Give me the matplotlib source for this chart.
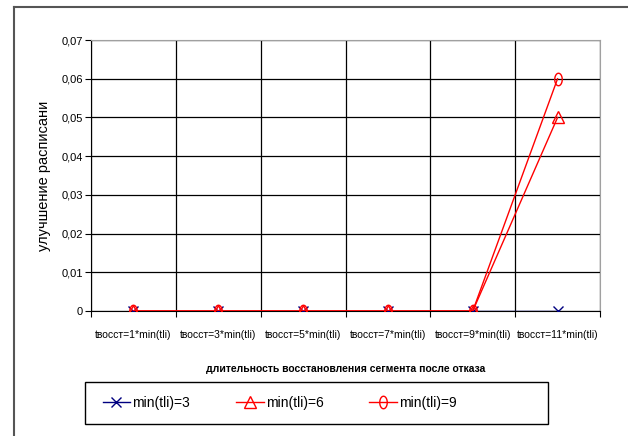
import numpy as np
import matplotlib.pyplot as plt
from matplotlib.path import Path
from matplotlib.lines import Line2D
from matplotlib.patches import Rectangle
from matplotlib.ticker import FuncFormatter, FixedLocator

plt.rcParams['font.family'] = ['Liberation Sans', 'DejaVu Sans']

categories = ['tвосст=1*min(tli)', 'tвосст=3*min(tli)', 'tвосст=5*min(tli)',
              'tвосст=7*min(tli)', 'tвосст=9*min(tli)', 'tвосст=11*min(tli)']
min3 = [0, 0, 0, 0, 0, 0]
min6 = [0, 0, 0, 0, 0, 0.05]
min9 = [0, 0, 0, 0, 0, 0.06]
labels = ['min(tli)=3', 'min(tli)=6', 'min(tli)=9']

# narrow ellipse marker
t = np.linspace(0, 2 * np.pi, 40)
ellipse = Path(np.column_stack([0.6 * np.cos(t), np.sin(t)]))

fig = plt.figure(figsize=(6.28, 4.36), dpi=100)
ax = fig.add_axes([91 / 628, 1 - 311 / 436, (600 - 91) / 628, (311 - 40) / 436])

x = np.arange(len(categories))
ax.plot(x, min3, color='#000080', lw=1, marker='x', ms=7, mew=1, label=labels[0], zorder=3)
ax.plot(x, min6, color='red', lw=1, marker='^', ms=8, mfc='none', mec='red', mew=1,
        label=labels[1], zorder=4)
ax.plot(x, min9, color='red', lw=1, marker=ellipse, ms=9, mfc='none', mec='red', mew=1,
        label=labels[2], zorder=4)

ax.set_xlim(-0.5, len(categories) - 0.5)
ax.set_ylim(0, 0.07)
ax.set_yticks(np.arange(0, 0.071, 0.01))
ax.yaxis.set_major_formatter(FuncFormatter(lambda v, p: '0' if v == 0 else f'{v:.2f}'.replace('.', ',')))
ax.set_xticks(x)
ax.set_xticklabels(categories, fontsize=7.5)
ax.xaxis.set_minor_locator(FixedLocator(np.arange(-0.5, len(categories), 1)))
ax.tick_params(axis='x', which='major', length=0, pad=14)
ax.tick_params(axis='x', which='minor', length=4, width=0.8, color='black')
ax.tick_params(axis='y', labelsize=8, length=4, width=0.8, pad=2)

ax.grid(axis='y', color='black', lw=0.9)
ax.grid(axis='x', which='minor', color='black', lw=0.9)
ax.set_axisbelow(True)
for side in ['top', 'right']:
    ax.spines[side].set_color('#a0a0a0')
for side in ['left', 'bottom']:
    ax.spines[side].set_color('black')

ax.set_ylabel('улучшение расписани', fontsize=10.5, labelpad=7)
ax.xaxis.set_label_coords(0.53, -0.195)
ax.set_xlabel('длительность восстановления сегмента после отказа', fontsize=7.5,
              fontweight='bold')

# legend box
fig.add_artist(Rectangle((85 / 628, 1 - 424 / 436), (548 - 85) / 628, 42 / 436,
                         transform=fig.transFigure, fill=False, edgecolor='black', lw=1))
leg = fig.legend(loc='center left', ncol=3, fontsize=10,
                 bbox_to_anchor=(90 / 628, 1 - 403 / 436),
                 frameon=False, handlelength=2.0, handletextpad=0.15, columnspacing=3.3)

# outer chart border
fig.add_artist(Line2D([14 / 628, 14 / 628], [0, 1 - 7 / 436], transform=fig.transFigure,
                      color='#555555', lw=1.5))
fig.add_artist(Line2D([14 / 628, 1], [1 - 7 / 436, 1 - 7 / 436], transform=fig.transFigure,
                      color='#555555', lw=1.5))

fig.savefig('out.png', dpi=100)
